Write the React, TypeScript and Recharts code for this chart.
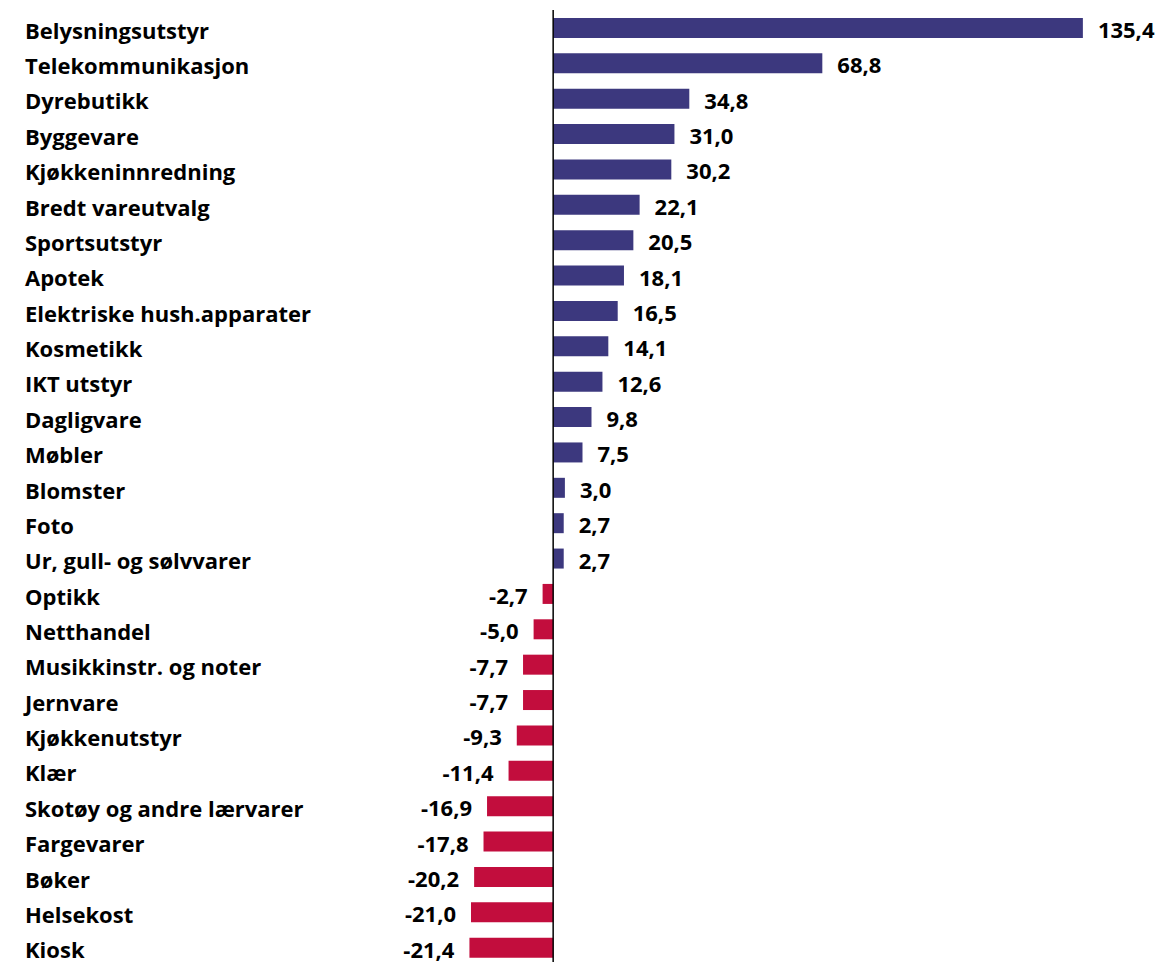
import React from "react";
import { BarChart, Bar, XAxis, YAxis, Cell, LabelList, ReferenceLine } from "recharts";

const categories = [
  "Belysningsutstyr",
  "Telekommunikasjon",
  "Dyrebutikk",
  "Byggevare",
  "Kjøkkeninnredning",
  "Bredt vareutvalg",
  "Sportsutstyr",
  "Apotek",
  "Elektriske hush.apparater",
  "Kosmetikk",
  "IKT utstyr",
  "Dagligvare",
  "Møbler",
  "Blomster",
  "Foto",
  "Ur, gull- og sølvvarer",
  "Optikk",
  "Netthandel",
  "Musikkinstr. og noter",
  "Jernvare",
  "Kjøkkenutstyr",
  "Klær",
  "Skotøy og andre lærvarer",
  "Fargevarer",
  "Bøker",
  "Helsekost",
  "Kiosk",
];

const values = [
  135.4, 68.8, 34.8, 31.0, 30.2, 22.1, 20.5, 18.1, 16.5, 14.1, 12.6, 9.8, 7.5, 3.0, 2.7, 2.7,
  -2.7, -5.0, -7.7, -7.7, -9.3, -11.4, -16.9, -17.8, -20.2, -21.0, -21.4,
];

const data = categories.map((name, i) => ({ name, value: values[i] }));

const POS = "#3c387e";
const NEG = "#c20d3d";
const FONT = "'Open Sans', sans-serif";

const fmt = (v: number) => v.toFixed(1).replace(".", ",");

function CategoryTick(props: any) {
  const { y, payload } = props;
  return (
    <text x={17} y={y + 11} textAnchor="start" fontFamily={FONT} fontWeight={700} fontSize={22} fill="#000">
      {payload.value}
    </text>
  );
}

function ValueLabel(props: any) {
  const { x, y, width, height, value } = props;
  const x0 = Math.min(x, x + width);
  const x1 = Math.max(x, x + width);
  const cy = y + height / 2;
  const pos = value >= 0;
  return (
    <text
      x={pos ? x1 + 15 : x0 - 15}
      y={cy + 10}
      textAnchor={pos ? "start" : "end"}
      fontFamily={FONT}
      fontWeight={700}
      fontSize={22}
      fill="#000"
    >
      {fmt(value)}
    </text>
  );
}

export default function App() {
  return (
    <BarChart
      width={1155}
      height={957}
      data={data}
      layout="vertical"
      margin={{ top: 2, right: 23, bottom: 0, left: 16 }}
    >
      <XAxis type="number" domain={[-135, 150]} hide />
      <YAxis
        type="category"
        dataKey="name"
        width={1}
        axisLine={false}
        tickLine={false}
        interval={0}
        tick={<CategoryTick />}
      />
      <Bar dataKey="value" barSize={20} isAnimationActive={false}>
        {data.map((d, i) => (
          <Cell key={i} fill={d.value >= 0 ? POS : NEG} />
        ))}
        <LabelList dataKey="value" content={<ValueLabel />} />
      </Bar>
      <ReferenceLine x={0} stroke="#000" strokeWidth={1.5} />
    </BarChart>
  );
}
